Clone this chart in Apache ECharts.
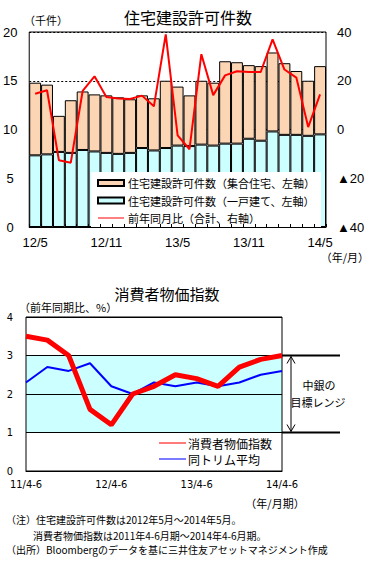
<!DOCTYPE html>
<html><head><meta charset="utf-8">
<script src="https://cdn.jsdelivr.net/npm/echarts@6/dist/echarts.min.js"></script>
<style>html,body{margin:0;padding:0;background:#fff}#c{width:376px;height:561px}</style>
</head><body><div id="c"></div>
<script>
// ---- Data: housing permits ----
const months = ['12/5','12/6','12/7','12/8','12/9','12/10','12/11','12/12','13/1','13/2','13/3','13/4','13/5','13/6','13/7','13/8','13/9','13/10','13/11','13/12','14/1','14/2','14/3','14/4','14/5'];
const singleFamily = [7.35,7.45,7.7,7.6,7.9,7.75,7.6,7.5,7.6,8.1,7.85,8.1,8.35,8.3,8.45,8.35,8.55,8.55,9.05,8.85,9.8,9.45,9.45,9.35,9.5];
const multiFamily = [7.45,7.15,3.7,5.4,6.0,5.85,5.9,5.8,5.5,5.4,5.35,6.9,6.05,5.2,6.55,6.45,8.45,8.35,7.55,7.65,8.1,7.35,6.55,5.65,7.0];
const yoyTotal = [14.7,16.1,-12.6,-13.6,15.8,21.8,13.3,12.7,12.5,13.9,9.5,39.0,-2.4,-8.1,30.9,14.1,22.2,23.9,23.6,23.6,37.0,24.6,21.3,1.0,14.4];
const leftTicks = [0,20,5];    // min, max, interval (千件)
const rightTicks = [-40,40,20]; // min, max, interval (%)

// ---- Data: CPI ----
const quarters = ['11/4-6','11/7-9','11/10-12','12/1-3','12/4-6','12/7-9','12/10-12','13/1-3','13/4-6','13/7-9','13/10-12','14/1-3','14/4-6'];
const cpi = [3.5,3.4,3.0,1.6,1.2,2.0,2.2,2.5,2.4,2.2,2.7,2.9,3.0];
const trimmedMean = [2.3,2.7,2.6,2.8,2.2,2.0,2.3,2.2,2.3,2.2,2.3,2.5,2.6];
const targetRange = [1,3];

const names = {
  multi: '住宅建設許可件数（集合住宅、左軸）',
  single: '住宅建設許可件数（一戸建て、左軸）',
  yoy: '前年同月比（合計、右軸）',
  cpi: '消費者物価指数',
  trim: '同トリム平均'
};

const JP = '"Noto Sans CJK JP", "Noto Sans", sans-serif';
const NUM = '"Liberation Sans", "Noto Sans", sans-serif';
const NARROW = '"Liberation Sans Narrow", "DejaVu Sans Condensed", "Liberation Sans", sans-serif';
const LINE_ICON = 'path://M0,0H26V1H0Z';

const chart = echarts.init(document.getElementById('c'), null, {renderer: 'svg'});

const option = {
  animation: false,
  backgroundColor: '#fff',
  textStyle: {fontFamily: JP, color: '#000'},
  grid: [
    {left: 28, right: 50, top: 32, bottom: 334, show: true, borderColor: '#000', borderWidth: 1, backgroundColor: '#fff', containLabel: false},
    {left: 26, right: 94, top: 317, bottom: 90, show: true, borderColor: '#000', borderWidth: 1, containLabel: false, z: 3}
  ],
  xAxis: [
    {type: 'category', gridIndex: 0, data: months, boundaryGap: true, z: 6,
     axisLine: {lineStyle: {color: '#000', width: 1}},
     axisTick: {show: true, inside: true, length: 3, interval: 0, lineStyle: {color: '#000'}},
     axisLabel: {interval: 5, color: '#000', fontFamily: NUM, fontSize: 13, margin: 9}},
    {type: 'category', gridIndex: 1, data: quarters, boundaryGap: false,
     axisLine: {lineStyle: {color: '#000'}},
     axisTick: {show: false},
     axisLabel: {interval: 3, color: '#000', fontFamily: NARROW, fontSize: 11, margin: 8}}
  ],
  yAxis: [
    {type: 'value', gridIndex: 0, min: leftTicks[0], max: leftTicks[1], interval: leftTicks[2],
     axisLine: {show: false}, axisTick: {show: false},
     splitLine: {show: true, lineStyle: {color: '#000', type: [2,2], width: 1}},
     axisLabel: {color: '#000', fontFamily: NUM, fontSize: 13, align: 'center', margin: 19}},
    {type: 'value', gridIndex: 0, position: 'right', min: rightTicks[0], max: rightTicks[1], interval: rightTicks[2],
     axisLine: {show: false}, axisTick: {show: false}, splitLine: {show: false},
     axisLabel: {color: '#000', fontFamily: NUM, fontSize: 13, margin: 11,
       formatter: v => v < 0 ? '▲' + (-v) : String(v)}},
    {type: 'value', gridIndex: 1, min: 0, max: 4, interval: 1, z: 3,
     axisLine: {show: false}, axisTick: {show: false},
     splitLine: {show: true, lineStyle: {color: '#000', width: 1}},
     axisLabel: {color: '#000', fontFamily: NARROW, fontSize: 11, align: 'center', margin: 16}}
  ],
  legend: [
    {data: [{name: names.multi, icon: 'rect'}, {name: names.single, icon: 'rect'}, {name: names.yoy, icon: LINE_ICON}],
     orient: 'vertical', left: 91, top: 172, backgroundColor: '#fff',
     padding: [5, 6, 5, 6], itemWidth: 26, itemHeight: 6, itemGap: 5.5, z: 4,
     textStyle: {fontFamily: JP, fontSize: 11, lineHeight: 12, color: '#000', padding: [0,0,0,-1]}},
    {data: [{name: names.cpi, icon: LINE_ICON}, {name: names.trim, icon: LINE_ICON}],
     orient: 'vertical', left: 159, top: 437, padding: 0, itemWidth: 27, itemHeight: 5, itemGap: 4,
     textStyle: {fontFamily: JP, fontSize: 12, lineHeight: 12, color: '#000', padding: [0,0,0,-3]}}
  ],
  series: [
    {name: names.single, type: 'bar', stack: 'permits', xAxisIndex: 0, yAxisIndex: 0, data: singleFamily,
     barCategoryGap: '0%', itemStyle: {color: '#CCFFFF', borderColor: '#000', borderWidth: 1}, z: 2},
    {name: names.multi, type: 'bar', stack: 'permits', xAxisIndex: 0, yAxisIndex: 0, data: multiFamily,
     barCategoryGap: '0%', itemStyle: {color: '#FCD5B4', borderColor: '#000', borderWidth: 1}, z: 2},
    {name: names.yoy, type: 'line', xAxisIndex: 0, yAxisIndex: 1, data: yoyTotal, symbol: 'none',
     lineStyle: {color: '#FF0000', width: 2}, itemStyle: {color: '#FF0000'}, z: 3},
    {name: 'target', type: 'line', xAxisIndex: 1, yAxisIndex: 2, data: quarters.map(() => null), symbol: 'none', z: 1,
     silent: true,
     markArea: {silent: true, itemStyle: {color: '#CCFFFF'}, data: [[{yAxis: targetRange[0]}, {yAxis: targetRange[1]}]]}},
    {name: names.trim, type: 'line', xAxisIndex: 1, yAxisIndex: 2, data: trimmedMean, symbol: 'none',
     lineStyle: {color: '#0000FF', width: 2}, itemStyle: {color: '#0000FF'}, z: 5},
    {name: names.cpi, type: 'line', xAxisIndex: 1, yAxisIndex: 2, data: cpi, symbol: 'none',
     lineStyle: {color: '#FF0000', width: 5}, itemStyle: {color: '#FF0000'}, z: 6}
  ]
};
chart.setOption(option);

// annotation positions from the library's scales
const yTop = chart.convertToPixel({yAxisIndex: 2}, targetRange[1]);
const yBot = chart.convertToPixel({yAxisIndex: 2}, targetRange[0]);
const xEnd = chart.convertToPixel({xAxisIndex: 1}, quarters[quarters.length - 1]);
const ax = xEnd + 9;
const mid = (yTop + yBot) / 2;

const txt = (x, y, text, size, align, extra) => ({
  type: 'text', x: x, y: y, z: 20,
  style: Object.assign({text: text, fontFamily: JP, fontSize: size, fill: '#000', align: align || 'left', verticalAlign: 'middle'}, extra || {})
});

chart.setOption({
  graphic: [
    txt(188, 17, '住宅建設許可件数', 16, 'center'),
    txt(24, 20, '（千件）', 11, 'left'),
    txt(369, 257, '（年/月）', 11, 'right'),
    txt(167, 293, '消費者物価指数', 15, 'center'),
    txt(19, 307, '（前年同期比、%）', 11, 'left'),
    txt(275, 503, '（年/月期）', 11, 'center'),
    txt(319, mid - 9, '中銀の', 11, 'center'),
    txt(318, mid + 8, '目標レンジ', 11, 'center'),
    txt(6, 519, '（注）住宅建設許可件数は2012年5月～2014年5月。', 10, 'left'),
    txt(33, 535, '消費者物価指数は2011年4-6月期～2014年4-6月期。', 10, 'left'),
    txt(6, 549, '（出所）Bloombergのデータを基に三井住友アセットマネジメント作成', 10, 'left'),
    {type: 'line', z: 20, shape: {x1: xEnd, y1: yTop, x2: xEnd + 58, y2: yTop}, style: {stroke: '#000', lineWidth: 2}},
    {type: 'line', z: 20, shape: {x1: xEnd, y1: yBot, x2: xEnd + 58, y2: yBot}, style: {stroke: '#000', lineWidth: 2}},
    {type: 'line', z: 20, shape: {x1: ax, y1: yTop + 1, x2: ax, y2: yBot - 1}, style: {stroke: '#000', lineWidth: 1}},
    {type: 'polyline', z: 20, shape: {points: [[ax - 4, yTop + 8], [ax, yTop + 1], [ax + 4, yTop + 8]]}, style: {stroke: '#000', lineWidth: 1, fill: null}},
    {type: 'polyline', z: 20, shape: {points: [[ax - 4, yBot - 8], [ax, yBot - 1], [ax + 4, yBot - 8]]}, style: {stroke: '#000', lineWidth: 1, fill: null}}
  ]
});
</script></body></html>
